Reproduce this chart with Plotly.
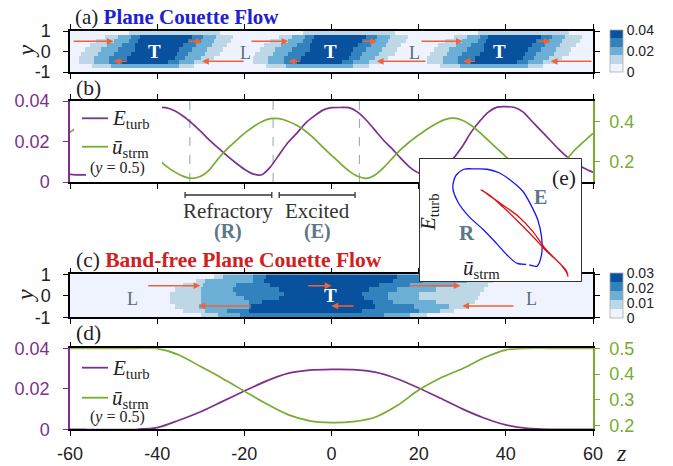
import numpy as np
import plotly.graph_objects as go

# the page body has an 8px margin, so the figure is drawn 8px in from the top-left corner
OFF = 8
W, H = 673 - OFF, 466 - OFF
def X(px):
    return (px - OFF) / W
def Y(py):
    return 1 - (py - OFF) / H

SERIF = "Liberation Serif"
SANS = "Liberation Sans"
PURPLE = "#7E2F8E"
GREEN = "#77AC30"
ARROW = "#EF6436"
SLATE = "#5B7788"

# ---------------- data: panel (b) ----------------
z_b = list(range(-60, 61, 2))
E_b = [0.0038, 0.0035, 0.0036, 0.0055, 0.0100, 0.0165, 0.0235, 0.0290, 0.0335, 0.0360,
       0.0368, 0.0367, 0.0352, 0.0325, 0.0290, 0.0250, 0.0207, 0.0168, 0.0130, 0.0095,
       0.0063, 0.0040, 0.0036, 0.0075, 0.0135, 0.0195, 0.0240, 0.0290, 0.0325, 0.0355,
       0.0367, 0.0368, 0.0367, 0.0345, 0.0305, 0.0255, 0.0205, 0.0162, 0.0115, 0.0072,
       0.0045, 0.0042, 0.0055, 0.0085, 0.0118, 0.0175, 0.0245, 0.0300, 0.0345, 0.0370,
       0.0372, 0.0368, 0.0345, 0.0300, 0.0255, 0.0210, 0.0165, 0.0125, 0.0095, 0.0068,
       0.0048]
u_b = [0.345, 0.375, 0.398, 0.412, 0.412, 0.400, 0.380, 0.350, 0.312, 0.270,
       0.218, 0.180, 0.150, 0.128, 0.118, 0.128, 0.160, 0.215, 0.262, 0.302,
       0.340, 0.372, 0.398, 0.413, 0.413, 0.400, 0.380, 0.352, 0.315, 0.272,
       0.232, 0.192, 0.155, 0.128, 0.118, 0.135, 0.172, 0.218, 0.262, 0.300,
       0.332, 0.362, 0.388, 0.408, 0.415, 0.405, 0.380, 0.345, 0.305, 0.265,
       0.225, 0.188, 0.155, 0.128, 0.118, 0.128, 0.175, 0.215, 0.262, 0.302,
       0.340]
dash_z = [-32.5, -13.4, 6.4]
bracket_lo = [-33.6, -12.0]
bracket_hi = [-13.7, 5.4]
bracket_names = ["Refractory", "Excited"]
bracket_tags = ["(R)", "(E)"]

# ---------------- data: panel (d) ----------------
z_d = list(range(-60, 61, 5))
E_d = [0.0, 0.0, 0.0, 0.0, 0.0008, 0.0045, 0.0087, 0.0138, 0.0189, 0.0238, 0.0276, 0.0292,
       0.0296, 0.0295, 0.0282, 0.0250, 0.0204, 0.0153, 0.0101, 0.0056, 0.0022, 0.0005,
       0.0, 0.0, 0.0]
u_d = [0.5, 0.5, 0.5, 0.5, 0.499, 0.474, 0.429, 0.383, 0.334, 0.285, 0.243, 0.219,
       0.212, 0.216, 0.233, 0.277, 0.338, 0.385, 0.421, 0.463, 0.494, 0.5,
       0.5, 0.5, 0.5]

# ---------------- data: heatmaps ----------------
row_y = [0.9, 0.7, 0.5, 0.3, 0.1, -0.1, -0.3, -0.5, -0.7, -0.9]
# panel (a): band edges (offset from patch centre) per row, levels 1..4
a_centers = [-40.0, 0.0, 40.0]
a_bands = [
    [(-6.7, 14.7)],
    [(-12.0, 17.4), (-9.0, 13.6), (-5.9, 10.5), (-4.0, 7.8)],
    [(-13.9, 17.0), (-10.1, 13.2), (-6.7, 10.2), (-4.7, 7.0)],
    [(-15.4, 15.8), (-11.6, 12.4), (-7.8, 8.9), (-5.1, 5.9)],
    [(-16.6, 15.1), (-12.8, 11.7), (-9.0, 7.8), (-5.1, 4.8)],
    [(-17.3, 14.3), (-13.5, 10.9), (-10.1, 7.0), (-5.9, 4.4)],
    [(-18.1, 13.2), (-14.3, 10.2), (-10.9, 6.3), (-7.0, 4.0)],
    [(-18.1, 11.7), (-14.3, 8.5), (-11.2, 4.8), (-8.2, 2.5)],
    [(-15.1, 8.5), (-10.5, 4.8)],
    [],
]
a_T = [-40.5, -0.3, 38.6]
a_L = [-19.8, 19.1]
a_top_tail = [-59.5, -33.0, -18.7, 7.0, 20.3, 47.0]
a_top_head = [-50.0, -29.7, -9.9, 10.4, 30.1, 50.3]
a_bot_tail = [-46.6, -19.8, -6.8, 21.9, 33.3, 60.0]
a_bot_head = [-50.0, -29.7, -9.9, 10.4, 30.2, 50.3]

# panel (c): absolute band edges per row
c_centers = [0.0]
c_bands = [
    [(-27, 36), (-25, 31), (-18, 22), (-15, 15)],
    [(-31, 37), (-29, 31), (-18, 21), (-15.5, 14)],
    [(-34, 36), (-29.5, 28), (-22, 18), (-14, 11)],
    [(-36, 35), (-30, 24), (-22.5, 15), (-12, 8.5)],
    [(-37, 34), (-30, 20), (-22, 13), (-11, 7)],
    [(-37, 33.5), (-30, 20), (-20, 13), (-12, 7.5)],
    [(-37, 33), (-30, 24), (-19, 14), (-16, 9.5)],
    [(-36, 31), (-30.5, 27), (-19, 19), (-18.5, 10)],
    [(-34, 28), (-29, 25), (-24, 20), (-19, 7)],
    [(-30, 22), (-26, 18), (-21, 12)],
]
c_T = [-0.3]
c_L = [-45.6, 45.9]
c_top_tail = [-42.4, -5.7, 17.5]
c_top_head = [-30.1, 0.0, 29.6]
c_bot_tail = [-18.3, 5.4, 42.1]
c_bot_head = [-30.5, 0.0, 30.0]

BLUES = ["#eff3ff", "#bdd7e7", "#6baed6", "#3182bd", "#08519c"]


def raster(centers, bands, step):
    zg = np.arange(-59.75, 60.0, 0.5)
    grid = np.zeros((len(row_y), zg.size))
    for c in centers:
        for i, row in enumerate(bands):
            for lo, hi in row:
                grid[i] += (zg >= c + lo) & (zg <= c + hi)
    return zg, (grid + 0.5) * step


def disc(cols):
    cs = []
    n = len(cols)
    for i, col in enumerate(cols):
        cs.append([i / n, col])
        cs.append([(i + 1) / n, col])
    return cs


xd = [X(70), X(593)]
dom_a = [Y(72), Y(31)]
dom_b = [Y(182), Y(101)]
dom_c = [Y(317.3), Y(274.3)]
dom_d = [Y(429.3), Y(348.3)]

fig = go.Figure()

za, va = raster(a_centers, a_bands, 0.008)
fig.add_trace(go.Heatmap(
    x=za, y=row_y, z=va, zmin=0, zmax=0.04, colorscale=disc(BLUES), xaxis="x", yaxis="y",
    hoverinfo="skip",
    colorbar=dict(x=X(610), xanchor="left", y=Y(51.3), yanchor="middle", len=42, lenmode="pixels",
                  thickness=13, thicknessmode="pixels", tickvals=[0, 0.02, 0.04],
                  ticktext=["0", "0.02", "0.04"], ticks="", xpad=0, ypad=0,
                  tickfont=dict(family=SANS, size=14, color="#222"),
                  outlinewidth=0.8, outlinecolor="#aaa")))

zc, vc = raster(c_centers, c_bands, 0.006)
fig.add_trace(go.Heatmap(
    x=zc, y=row_y, z=vc, zmin=0, zmax=0.03, colorscale=disc(BLUES), xaxis="x3", yaxis="y4",
    hoverinfo="skip",
    colorbar=dict(x=X(610), xanchor="left", y=Y(295.8), yanchor="middle", len=45, lenmode="pixels",
                  thickness=13, thicknessmode="pixels", tickvals=[0, 0.01, 0.02, 0.03],
                  ticktext=["0", "0.01", "0.02", "0.03"], ticks="", xpad=0, ypad=0,
                  tickfont=dict(family=SANS, size=14, color="#222"),
                  outlinewidth=0.8, outlinecolor="#aaa")))

# panel (b)
for zz in dash_z:
    fig.add_trace(go.Scatter(x=[zz, zz], y=[0, 0.04], mode="lines", xaxis="x2", yaxis="y2",
                             line=dict(color="#8FA3B1", width=1, dash="dash"), showlegend=False))
fig.add_trace(go.Scatter(x=z_b, y=E_b, mode="lines", xaxis="x2", yaxis="y2", showlegend=False,
                         line=dict(color=PURPLE, width=1.7, shape="spline", smoothing=0.6)))
fig.add_trace(go.Scatter(x=z_b, y=u_b, mode="lines", xaxis="x2", yaxis="y3", showlegend=False,
                         line=dict(color=GREEN, width=1.7, shape="spline", smoothing=0.6)))

# panel (d)
fig.add_trace(go.Scatter(x=z_d, y=E_d, mode="lines", xaxis="x4", yaxis="y5", showlegend=False,
                         line=dict(color=PURPLE, width=1.7, shape="spline", smoothing=0.8)))
fig.add_trace(go.Scatter(x=z_d, y=u_d, mode="lines", xaxis="x4", yaxis="y6", showlegend=False,
                         line=dict(color=GREEN, width=1.7, shape="spline", smoothing=0.8)))

# inset (e): phase portraits
i0, i1 = z_b.index(-18), z_b.index(22)
fig.add_trace(go.Scatter(x=u_b[i0:i1 + 1], y=E_b[i0:i1 + 1], mode="lines", xaxis="x5", yaxis="y7",
                         showlegend=False, line=dict(color="#1515F0", width=1.3, shape="spline", smoothing=0.8)))
fig.add_trace(go.Scatter(x=u_d, y=E_d, mode="lines", xaxis="x5", yaxis="y7", showlegend=False,
                         line=dict(color="#DD1111", width=1.3, shape="spline", smoothing=0.8)))

ztick = [-60, -40, -20, 0, 20, 40, 60]
common_x = dict(range=[-60, 60], domain=xd, showline=True, linecolor="black", linewidth=1.5,
                mirror="allticks", ticks="outside", ticklen=5, tickwidth=1.3, tickcolor="black",
                tickvals=ztick, showgrid=False, zeroline=False, showticklabels=False,
                automargin=False)

tickfont = dict(family=SANS, size=18, color="#222")

def yleft(dom, anchor, rng, vals, txt, col):
    return dict(domain=dom, anchor=anchor, range=rng, tickvals=vals, ticktext=txt,
                showline=True, linecolor=col, linewidth=1.5, ticks="outside", ticklen=5,
                tickwidth=1.3, tickcolor=col, tickfont=dict(family=SANS, size=18, color=col),
                showgrid=False, zeroline=False, ticklabelstandoff=10, automargin=False)

layout = dict(
    width=W, height=H, margin=dict(l=0, r=0, t=0, b=0, autoexpand=False),
    paper_bgcolor="white", plot_bgcolor="white", showlegend=False,
    xaxis=dict(common_x, anchor="y"),
    xaxis2=dict(common_x, anchor="y2"),
    xaxis3=dict(common_x, anchor="y4"),
    xaxis4=dict(common_x, anchor="y5", showticklabels=True,
                ticktext=["-60", "-40", "-20", "0", "20", "40", "60"],
                tickfont=tickfont, ticklabelstandoff=2),
    yaxis=dict(yleft(dom_a, "x", [-1, 1], [-1, 0, 1], ["-1", "0", "1"], "black"),
               mirror="allticks", tickfont=tickfont, ticklabelstandoff=9),
    yaxis2=yleft(dom_b, "x2", [0, 0.04], [0, 0.02, 0.04], ["0", "0.02", "0.04"], PURPLE),
    yaxis3=dict(yleft(dom_b, "x2", [0.1, 0.5], [0.2, 0.4], ["0.2", "0.4"], GREEN),
                overlaying="y2", side="right", ticklabelstandoff=6),
    yaxis4=dict(yleft(dom_c, "x3", [-1, 1], [-1, 0, 1], ["-1", "0", "1"], "black"),
                mirror="allticks", tickfont=tickfont, ticklabelstandoff=9),
    yaxis5=yleft(dom_d, "x4", [0, 0.04], [0, 0.02, 0.04], ["0", "0.02", "0.04"], PURPLE),
    yaxis6=dict(yleft(dom_d, "x4", [0.186, 0.5], [0.2, 0.3, 0.4, 0.5], ["0.2", "0.3", "0.4", "0.5"], GREEN),
                overlaying="y5", side="right", ticklabelstandoff=6),
    xaxis5=dict(domain=[X(420), X(581)], anchor="y7", range=[0.009, 0.544], showline=True,
                mirror=True, linecolor="#333", linewidth=1, ticks="", showticklabels=False,
                showgrid=False, zeroline=False, automargin=False),
    yaxis7=dict(domain=[Y(281), Y(159)], anchor="x5", range=[-0.0015, 0.0402], showline=True,
                mirror=True, linecolor="#333", linewidth=1, ticks="", showticklabels=False,
                showgrid=False, zeroline=False, automargin=False),
)
fig.update_layout(**layout)

ann = []
shapes = []

def txt(px, py, s, size=18, color="#222", family=SERIF, xa="center", ya="middle", angle=0, pad=1):
    ann.append(dict(x=X(px), y=Y(py), xref="paper", yref="paper", text=s, showarrow=False,
                    xanchor=xa, yanchor=ya, textangle=angle, borderpad=pad,
                    font=dict(family=family, size=size, color=color)))

# titles and panel labels
txt(74, 17, "(a) <span style='color:#2020D0'><b>Plane Couette Flow</b></span>", size=21, xa="left", pad=0)
txt(74, 88, "(b)", size=21.5, xa="left")
txt(74, 260, "(c) <span style='color:#D02020'><b>Band-free Plane Couette Flow</b></span>", size=21.5, xa="left")
txt(74, 333, "(d)", size=21.5, xa="left")
txt(25, 51.5, "<i>y</i>", size=24, angle=-90)
txt(25, 296, "<i>y</i>", size=24, angle=-90)
txt(621, 453, "<i>z</i>", size=24)

# white boxes behind the legends
def rect(x0, x1, y0, y1):
    shapes.append(dict(type="rect", xref="paper", yref="paper", x0=X(x0), x1=X(x1), y0=Y(y1), y1=Y(y0),
                       fillcolor="white", line=dict(width=0), layer="above"))

rect(74, 162, 102.5, 166)
rect(86, 150, 166, 181.2)
rect(74, 157, 350, 408)
rect(86, 138, 408, 428.6)

def legend(y1, y2, y3):
    for yy, col in ((y1, PURPLE), (y2, GREEN)):
        shapes.append(dict(type="line", xref="paper", yref="paper", x0=X(82), x1=X(108), y0=Y(yy), y1=Y(yy),
                           line=dict(color=col, width=1.8), layer="above"))
    txt(110, y1 + 1, "<i>E</i><sub>turb</sub>", size=21, xa="left")
    txt(110, y2 + 1, "<i>ū</i><sub>strm</sub>", size=21, xa="left")
    txt(117, y3, "(<i>y</i> = 0.5)", size=16)

legend(118.3, 146.7, 168)
legend(367.7, 397.7, 417.3)

# brackets
for lo, hi, name, tag in zip(bracket_lo, bracket_hi, bracket_names, bracket_tags):
    shapes.append(dict(type="line", xref="x2", yref="paper", x0=lo, x1=hi, y0=Y(195), y1=Y(195),
                       line=dict(color="#333", width=1.3)))
    for e in (lo, hi):
        shapes.append(dict(type="line", xref="x2", yref="paper", x0=e, x1=e, y0=Y(192), y1=Y(198),
                           line=dict(color="#333", width=1.3)))
    cx = (lo + hi) / 2
    ann.append(dict(x=cx, y=Y(211), xref="x2", yref="paper", text=name, showarrow=False,
                    font=dict(family=SERIF, size=21, color="#333")))
    ann.append(dict(x=cx, y=Y(231.5), xref="x2", yref="paper", text="<b>" + tag + "</b>", showarrow=False,
                    font=dict(family=SERIF, size=20, color=SLATE)))

# heatmap labels
for zz in a_T:
    ann.append(dict(x=zz, y=0, xref="x", yref="y", text="<b>T</b>", showarrow=False,
                    font=dict(family=SERIF, size=19, color="white")))
for zz in a_L:
    ann.append(dict(x=zz, y=-0.05, xref="x", yref="y", text="L", showarrow=False,
                    font=dict(family=SERIF, size=18, color="#5A6B78")))
for zz in c_T:
    ann.append(dict(x=zz, y=0.0, xref="x3", yref="y4", text="<b>T</b>", showarrow=False,
                    font=dict(family=SERIF, size=19, color="white")))
for zz in c_L:
    ann.append(dict(x=zz, y=-0.15, xref="x3", yref="y4", text="L", showarrow=False,
                    font=dict(family=SERIF, size=18, color="#5A6B78")))

def arrows(tails, heads, yv, xr, yr):
    for t, h in zip(tails, heads):
        ann.append(dict(x=h, y=yv, ax=t, ay=yv, xref=xr, yref=yr, axref=xr, ayref=yr, text="",
                        showarrow=True, arrowhead=2, arrowsize=0.9, arrowwidth=1.5, arrowcolor=ARROW,
                        standoff=0, startstandoff=0))

arrows(a_top_tail, a_top_head, 0.5, "x", "y")
arrows(a_bot_tail, a_bot_head, -0.48, "x", "y")
arrows(c_top_tail, c_top_head, 0.47, "x3", "y4")
arrows(c_bot_tail, c_bot_head, -0.47, "x3", "y4")

# inset labels
txt(564, 178, "(e)", size=21.5)
txt(540, 197, "<b>E</b>", size=20, color=SLATE)
txt(467, 233, "<b>R</b>", size=21, color=SLATE)
txt(429, 212, "<i>E</i><sub>turb</sub>", size=21, angle=-90)
txt(481, 269, "<i>ū</i><sub>strm</sub>", size=21)

fig.update_layout(annotations=ann, shapes=shapes)
fig.write_html("out.html")
